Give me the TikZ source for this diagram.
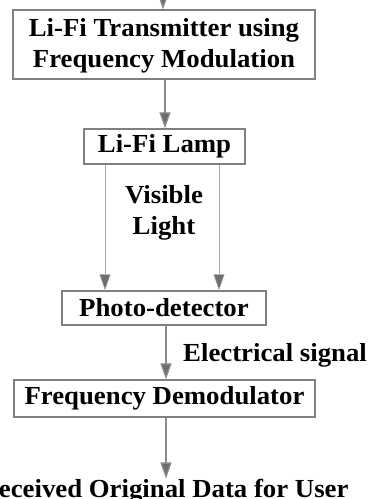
\documentclass[tikz,border=0pt]{standalone}
\usepackage{fontspec}
\usepackage{graphicx}
\setmainfont{Liberation Serif}
\usetikzlibrary{arrows.meta,calc}
\newcommand{\hs}[1]{\scalebox{1.03}[1]{#1}}
\begin{document}
\begin{tikzpicture}[x=1pt,y=-1pt,
  lbl/.style={font=\fontsize{26}{31.5}\selectfont\bfseries, inner sep=0pt},
  blk/.style={lbl, draw=boxgray, line width=1.4pt, fill=white},
  arr/.style={draw=linegray, line width=1.3pt, -{Triangle[length=16pt,width=11pt,fill=tipgray]}},
  thinarr/.style={draw=lightgray2, line width=0.9pt, -{Triangle[length=16pt,width=11pt,fill=tipgray,line width=0.6pt]}}
]
\definecolor{boxgray}{HTML}{808080}
\definecolor{linegray}{HTML}{8A8A8A}
\definecolor{lightgray2}{HTML}{A8A8A8}
\definecolor{tipgray}{HTML}{6E6E6E}
\useasboundingbox (0,0) rectangle (370,499);

\node[blk, minimum width=302pt, minimum height=69pt, align=center, text depth=3pt] (tx) at (164,44.5)
  {\hs{Li-Fi Transmitter using}\\\hs{Frequency Modulation}};
\node[blk, minimum width=161pt, minimum height=35pt] (lamp) at (164.5,146.5) {\hs{Li-Fi Lamp}};
\node[blk, minimum width=204pt, minimum height=34pt] (pd) at (164,308) {\hs{Photo-detector}};
\node[blk, minimum width=301pt, minimum height=37pt] (fd) at (164.5,398.5) {\hs{Frequency Demodulator}};

\node[lbl, align=center] (vl) at (164,213) {\hs{Visible}\\\hs{Light}};
\node[lbl, anchor=base west] (es) at (183,361.5) {\hs{Electrical signal}};
\node[lbl, anchor=base] (out) at (164,497) {\hs{Received Original Data for User}};

\coordinate (src) at (163,0);
\draw[arr] (src) -- ([xshift=-1pt]tx.north);
\draw[arr] ([xshift=1pt]tx.south) -- ([xshift=0.5pt]lamp.north);
\draw[thinarr] ([xshift=-59.5pt]lamp.south) -- ([xshift=-59pt]pd.north);
\draw[thinarr] ([xshift=54.5pt]lamp.south) -- ([xshift=55pt]pd.north);
\draw[arr] ([xshift=2pt]pd.south) -- ([xshift=1.5pt]fd.north);
\draw[arr] ([xshift=1.5pt]fd.south) -- ([xshift=2pt]out.north);
\end{tikzpicture}
\end{document}
